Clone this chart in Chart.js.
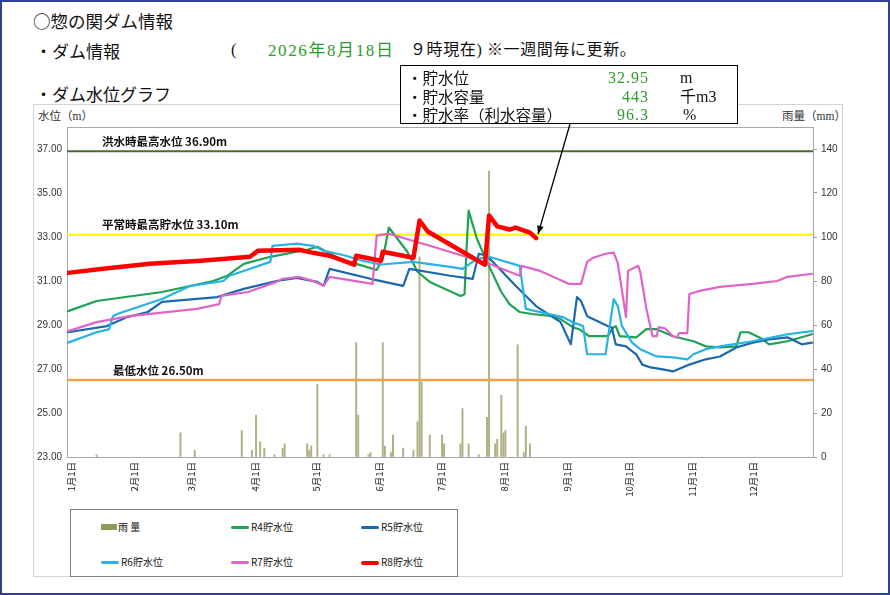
<!DOCTYPE html>
<html lang="ja">
<head>
<meta charset="utf-8">
<script src="https://cdn.jsdelivr.net/npm/chart.js@4.4.1/dist/chart.umd.min.js"></script>
<style>
  body { margin: 0; width: 890px; height: 595px; background: #fff; position: relative; overflow: hidden;
         font-family: "Noto Sans CJK JP", sans-serif; color: #111; }
  #frame { position: absolute; left: 0; top: 0; width: 890px; height: 595px; box-sizing: border-box; border: 2px solid #2f3f9a; }
  .t { position: absolute; white-space: nowrap; line-height: 1; }
  .serif { font-family: "Liberation Serif", "Noto Sans CJK JP", serif; }
  .green { color: #2e9a2e; }
  #chartBox { position: absolute; left: 33px; top: 104px; width: 810px; height: 473px; box-sizing: border-box; border: 1px solid #d4d4d4; }
  #chartCanvas { position: absolute; left: 34px; top: 105px; }
  #info { position: absolute; left: 400px; top: 65px; width: 338px; height: 59px; box-sizing: border-box;
          border: 1.5px solid #000; background: #fff; z-index: 5; }
  #legend { position: absolute; left: 70px; top: 509px; width: 388px; height: 68px; box-sizing: border-box;
            border: 1px solid #808080; background: #fff; font-size: 10px; }
  .lg { position: absolute; line-height: 1; white-space: nowrap; }
  .sw { position: absolute; }
</style>
</head>
<body>
<div id="frame"></div>

<div class="t" style="left:33px; top:12px; font-size:17.5px;">○惣の関ダム情報</div>
<div class="t" style="left:35px; top:42px; font-size:17px;">・ダム情報</div>
<div class="t serif" style="left:231px; top:42px; font-size:16px;">(</div>
<div class="t serif green" id="dateText" style="left:268px; top:42px; font-size:17px; letter-spacing:1.6px;"></div>
<div class="t serif" style="left:410px; top:42px; font-size:16px; letter-spacing:0.6px;">９時現在) ※一週間毎に更新。</div>
<div class="t" style="left:35px; top:85px; font-size:17px;">・ダム水位グラフ</div>

<div id="chartBox"></div>
<div class="t serif" style="left:38px; top:111px; font-size:11.5px; color:#333;">水位（m）</div>
<div class="t serif" style="left:782px; top:111px; font-size:11.5px; color:#333;">雨量（mm）</div>
<canvas id="chartCanvas" width="808" height="471"></canvas>

<div id="info"></div>
<div id="legend"></div>

<script>
// axis labels
const monthStartDays = [0, 31, 59, 90, 120, 151, 181, 212, 243, 273, 304, 334];
const monthLabels = ['1月1日', '2月1日', '3月1日', '4月1日', '5月1日', '6月1日', '7月1日', '8月1日', '9月1日', '10月1日', '11月1日', '12月1日'];
const levelTicks = [23, 25, 27, 29, 31, 33, 35, 37];
const rainTicks = [0, 20, 40, 60, 80, 100, 120, 140];

// reference levels (m)
const refNames = ['洪水時最高水位 36.90m', '平常時最高貯水位 33.10m', '最低水位 26.50m'];
const refLevels = [36.9, 33.1, 26.5];

// info box
const updateDate = '2026年8月18日';
const infoNames = ['・貯水位', '・貯水容量', '・貯水率（利水容量）'];
const infoValues = ['32.95', '443', '96.3'];
const infoUnits = ['m', '千m3', '%'];

// water level by day of year (0 = Jan 1)
const r4Days = [0, 14, 46, 71, 78, 86, 99, 117, 122, 134, 144, 151, 154, 157, 166, 171, 177, 192, 194, 195, 196, 200, 205, 212, 216, 221, 227, 237, 241, 247, 250, 255, 264, 267, 268, 270, 278, 283, 288, 296, 306, 312, 319, 327, 329, 333, 340, 343, 352, 364];
const r4Level = [29.63, 30.09, 30.5, 31.0, 31.24, 31.78, 32.1, 32.42, 32.56, 31.95, 31.7, 31.5, 32.0, 33.43, 32.33, 31.42, 30.96, 30.32, 30.4, 32.5, 34.2, 32.93, 31.87, 30.5, 29.95, 29.59, 29.5, 29.4, 29.27, 28.9, 28.81, 28.49, 28.49, 28.9, 28.95, 28.49, 28.44, 28.81, 28.81, 28.49, 28.26, 28.03, 27.98, 28.03, 28.67, 28.67, 28.35, 28.12, 28.26, 28.58];

const r5Days = [0, 19, 29, 39, 46, 73, 86, 102, 112, 122, 125, 128, 148, 164, 167, 187, 198, 201, 205, 219, 229, 241, 246, 249, 251, 254, 264, 266, 268, 273, 278, 281, 285, 291, 296, 304, 312, 319, 327, 335, 343, 352, 359, 364];
const r5Level = [28.67, 28.95, 29.36, 29.59, 30.05, 30.27, 30.64, 31.0, 31.14, 30.96, 30.78, 31.55, 31.1, 30.78, 31.55, 31.24, 31.1, 32.24, 32.15, 30.78, 29.86, 29.13, 28.12, 30.27, 30.09, 29.4, 28.95, 28.9, 28.12, 28.03, 27.67, 27.2, 27.07, 26.98, 26.89, 27.2, 27.44, 27.57, 27.98, 28.2, 28.35, 28.44, 28.12, 28.2];

const r6Days = [0, 14, 20, 22, 24, 46, 60, 76, 79, 99, 100, 112, 120, 125, 136, 144, 153, 169, 187, 193, 200, 206, 221, 224, 242, 247, 252, 254, 263, 267, 269, 271, 276, 280, 288, 296, 303, 306, 312, 319, 335, 352, 364];
const r6Level = [28.2, 28.67, 28.8, 29.4, 29.5, 30.18, 30.78, 31.0, 31.24, 31.87, 32.6, 32.7, 32.6, 32.38, 32.15, 31.92, 31.75, 31.87, 31.64, 31.55, 32.0, 32.1, 31.69, 29.73, 29.36, 29.13, 28.95, 27.67, 27.67, 30.18, 29.86, 28.95, 28.2, 27.9, 27.57, 27.53, 27.44, 27.67, 27.9, 28.03, 28.26, 28.58, 28.72];

const r7Days = [0, 14, 30, 63, 74, 75, 88, 102, 105, 113, 120, 125, 128, 149, 151, 157, 177, 193, 206, 221, 222, 231, 245, 251, 254, 257, 263, 267, 269, 273, 274, 279, 280, 283, 286, 288, 289, 292, 296, 298, 299, 303, 304, 309, 319, 335, 347, 352, 364];
const r7Level = [28.72, 29.13, 29.4, 29.73, 29.95, 30.32, 30.5, 30.96, 31.1, 31.19, 31.0, 30.78, 31.19, 30.87, 33.06, 33.15, 32.6, 32.15, 31.78, 31.24, 31.69, 31.46, 30.87, 30.87, 31.87, 32.06, 32.24, 32.29, 31.8, 29.36, 31.46, 31.69, 31.4, 29.73, 28.49, 28.49, 28.9, 28.85, 28.49, 28.44, 28.63, 28.63, 30.41, 30.55, 30.73, 30.87, 31.0, 31.19, 31.33];

const r8Days = [0, 16, 40, 65, 89, 93, 113, 120, 128, 140, 141, 153, 154, 169, 172, 176, 204, 206, 210, 216, 219, 226, 229];
const r8Level = [31.37, 31.55, 31.78, 31.92, 32.1, 32.38, 32.42, 32.28, 32.15, 31.74, 32.15, 31.92, 32.33, 32.06, 33.75, 33.25, 31.74, 33.98, 33.48, 33.34, 33.43, 33.2, 32.95];

// rainfall (mm) by day of year
const rainDays = [14, 55, 62, 85, 90, 92, 94, 96, 101, 105, 106, 117, 118, 119, 122, 125, 128, 141, 142, 147, 148, 154, 155, 158, 159, 164, 169, 171, 172, 173, 177, 183, 184, 192, 193, 196, 201, 205, 206, 209, 210, 212, 213, 214, 220, 223, 224, 226];
const rainMm = [1, 11, 3, 12, 3, 19, 7, 4, 1, 4, 6, 6, 3, 5, 33, 1, 1, 52, 19, 1, 2, 52, 5, 2, 10, 4, 3, 16, 91, 34, 10, 10, 6, 6, 22, 6, 1, 18, 130, 6, 8, 28, 11, 12, 51, 2, 14, 6];

const seriesNames = ['R4貯水位', 'R5貯水位', 'R6貯水位', 'R7貯水位', 'R8貯水位'];
const seriesColors = ['#1fa255', '#1b68ae', '#29b2e4', '#e064c8', '#ff0000'];
const refColors = ['#4f6a2a', '#ffff00', '#f5a04e'];
const rainColor = '#aeb083';

document.getElementById('dateText').textContent = updateDate;

// info box rows
const info = document.getElementById('info');
infoNames.forEach((name, i) => {
    const top = 4 + i * 18.5;
    info.insertAdjacentHTML('beforeend',
        `<div class="t" style="left:6px; top:${top}px; font-size:15.5px;">${name}</div>` +
        `<div class="t serif green" style="right:88px; top:${top}px; font-size:16px; letter-spacing:1px;">${infoValues[i]}</div>` +
        `<div class="t serif" style="left:${i === 2 ? 282 : 279}px; top:${top}px; font-size:16px;">${infoUnits[i]}</div>`);
});

// legend
const legend = document.getElementById('legend');
const legendItems = [{ name: '雨 量', color: '#8d9a58', bar: true }]
    .concat(seriesNames.map((n, i) => ({ name: n, color: seriesColors[i], bar: false })));
legendItems.forEach((item, i) => {
    const col = i % 3, row = Math.floor(i / 3);
    const left = 30 + col * 130, top = 15 + row * 35;
    const sw = item.bar
        ? `<div class="sw" style="left:${left}px; top:${top - 1}px; width:16px; height:6px; background:${item.color};"></div>`
        : `<div class="sw" style="left:${left}px; top:${top + 1}px; width:18px; height:${i === 5 ? 4 : 3}px; border-radius:2px; background:${item.color};"></div>`;
    legend.insertAdjacentHTML('beforeend', sw +
        `<div class="lg" style="left:${left + (item.bar ? 17 : 20)}px; top:${top - 3}px;">${item.name}</div>`);
});

const toPoints = (days, vals) => days.map((d, i) => ({ x: d, y: vals[i] }));

const lineSets = [r4Level, r5Level, r6Level, r7Level, r8Level].map((vals, i) => ({
    type: 'line',
    label: seriesNames[i],
    data: toPoints([r4Days, r5Days, r6Days, r7Days, r8Days][i], vals),
    borderColor: seriesColors[i],
    borderWidth: i === 4 ? 4.5 : 2.2,
    pointRadius: 0,
    tension: 0,
    borderJoinStyle: 'round',
    borderCapStyle: 'round',
    yAxisID: 'y',
    order: 5 - i
}));

const refSets = refLevels.map((lv, i) => ({
    type: 'line',
    label: refNames[i],
    data: [{ x: -0.5, y: lv }, { x: 364.5, y: lv }],
    borderColor: refColors[i],
    borderWidth: i === 0 ? 2 : 2.6,
    pointRadius: 0,
    yAxisID: 'y',
    order: 6
}));

const rainSet = {
    type: 'bar',
    label: '雨 量',
    data: toPoints(rainDays, rainMm),
    backgroundColor: rainColor,
    barThickness: 1.3,
    yAxisID: 'y2',
    order: 7
};

// plot frame, level labels and the arrow from the info box
const extras = {
    id: 'extras',
    beforeDatasetsDraw(chart) {
        const { ctx, chartArea: a } = chart;
        ctx.save();
        ctx.strokeStyle = '#a9a9a9';
        ctx.lineWidth = 1;
        ctx.strokeRect(a.left + 0.5, a.top + 0.5, a.right - a.left, a.bottom - a.top);
        ctx.restore();
    },
    afterDatasetsDraw(chart) {
        const { ctx, chartArea: a, scales: { x, y } } = chart;
        ctx.save();
        ctx.fillStyle = '#111';
        ctx.font = 'bold 11.5px "Noto Sans CJK JP"';
        ctx.textBaseline = 'bottom';
        refNames.forEach((name, i) => {
            ctx.fillText(name, a.left + (i === 2 ? 46 : 35), y.getPixelForValue(refLevels[i]) - 4);
        });
        const last = r8Days.length - 1;
        const ex = x.getPixelForValue(r8Days[last]) + 2;
        const ey = y.getPixelForValue(r8Level[last]) - 4;
        const sx = 536, sy = 19;
        ctx.strokeStyle = '#000';
        ctx.fillStyle = '#000';
        ctx.lineWidth = 1.3;
        ctx.beginPath();
        ctx.moveTo(sx, sy);
        ctx.lineTo(ex, ey);
        ctx.stroke();
        const ang = Math.atan2(ey - sy, ex - sx);
        ctx.beginPath();
        ctx.moveTo(ex, ey);
        ctx.lineTo(ex - 9 * Math.cos(ang - 0.38), ey - 9 * Math.sin(ang - 0.38));
        ctx.lineTo(ex - 9 * Math.cos(ang + 0.38), ey - 9 * Math.sin(ang + 0.38));
        ctx.closePath();
        ctx.fill();
        ctx.restore();
    }
};

new Chart(document.getElementById('chartCanvas').getContext('2d'), {
    type: 'line',
    data: { datasets: lineSets.concat(refSets, [rainSet]) },
    options: {
        responsive: false,
        animation: false,
        layout: { padding: { top: 22, left: 0, right: 0, bottom: 0 } },
        plugins: { legend: { display: false }, tooltip: { enabled: false } },
        scales: {
            x: {
                type: 'linear',
                offset: false,
                min: -0.5,
                max: 364.5,
                grid: { display: false, drawTicks: false, offset: false },
                border: { display: false },
                afterBuildTicks: s => { s.ticks = monthStartDays.map(v => ({ value: v })); },
                afterFit: s => { s.height = 119; },
                ticks: {
                    autoSkip: false,
                    minRotation: 90,
                    maxRotation: 90,
                    padding: 5,
                    labelOffset: 3,
                    color: '#222',
                    font: { family: '"Noto Sans CJK JP"', size: 9.5 },
                    callback: v => monthLabels[monthStartDays.indexOf(v)]
                }
            },
            y: {
                position: 'left',
                min: 23,
                max: 38,
                grid: { display: false, drawTicks: false },
                border: { display: false },
                afterBuildTicks: s => { s.ticks = levelTicks.map(v => ({ value: v })); },
                afterFit: s => { s.width = 33; },
                ticks: {
                    padding: 5,
                    color: '#333',
                    font: { family: '"Liberation Sans"', size: 10 },
                    callback: v => Number(v).toFixed(2)
                }
            },
            y2: {
                position: 'right',
                min: 0,
                max: 150,
                grid: { display: true, drawOnChartArea: false, drawTicks: true, tickLength: 4, color: '#999' },
                border: { display: false },
                afterBuildTicks: s => { s.ticks = rainTicks.map(v => ({ value: v })); },
                afterFit: s => { s.width = 29; },
                ticks: {
                    padding: 4,
                    color: '#333',
                    font: { family: '"Liberation Sans"', size: 10 }
                }
            }
        }
    },
    plugins: [extras]
});
</script>
</body>
</html>
